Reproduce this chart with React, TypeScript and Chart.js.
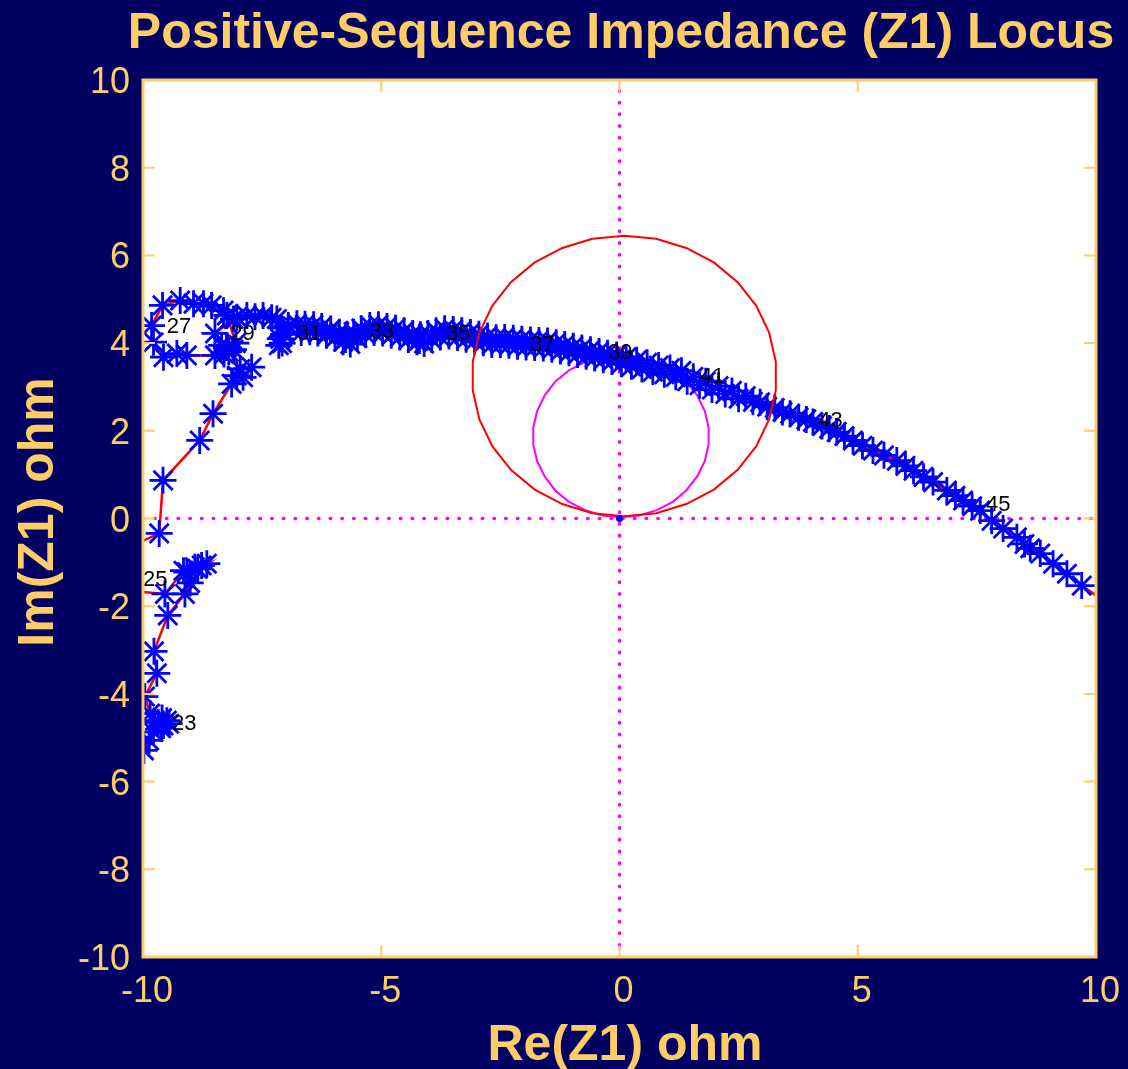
import React, { useEffect, useRef } from "react";
import { Chart, registerables } from "chart.js";

Chart.register(...registerables);

// ---------- data ----------
const reZ1 = [
  -10.5, -9.98, -9.87, -9.78, -9.68, -9.5, -9.57, -9.75, -9.6, -9.45,
  -9.62, -9.85, -9.96, -9.71, -9.77, -9.48, -9.12, -9.01, -9.08, -8.91,
  -8.77, -8.66, -8.85, -9.15, -9.54, -10.6, -11.0, -9.66, -9.58, -8.81,
  -8.53, -8.14, -8.03, -7.9, -7.72, -7.96, -8.2, -8.35, -8.1, -8.3,
  -8.49, -9.08, -9.29, -9.57, -9.78, -9.82, -9.59, -9.22, -8.94, -8.73,
  -8.56, -8.31, -8.1, -8.49, -8.25, -8.05, -8.24, -8.03, -7.82, -7.65,
  -7.48, -7.3, -7.19, -7.1, -7.12, -7.15, -7.05, -7.08, -6.95, -6.77,
  -6.68, -6.6, -6.5, -6.42, -6.33, -6.25, -6.15, -6.06, -5.97, -5.88,
  -5.8, -5.72, -5.65, -5.75, -5.58, -5.5, -5.42, -5.33, -5.24, -5.15,
  -5.06, -4.97, -4.88, -4.79, -4.7, -4.61, -4.52, -4.43, -4.34, -4.25,
  -4.18, -4.1, -4.2, -4.02, -3.94, -3.85, -3.76, -3.67, -3.58, -3.49,
  -3.4, -3.31, -3.22, -3.13, -3.04, -2.95, -2.86, -2.77, -2.68, -2.59,
  -2.5, -2.41, -2.32, -2.23, -2.14, -2.05, -1.96, -1.87, -1.78, -1.69,
  -1.6, -1.51, -1.42, -1.33, -1.24, -1.15, -1.06, -0.97, -0.88, -0.79,
  -0.7, -0.61, -0.52, -0.43, -0.34, -0.25, -0.16, -0.06, 0.04, 0.14,
  0.25, 0.36, 0.47, 0.58, 0.7, 0.82, 0.94, 1.06, 1.18, 1.3,
  1.42, 1.55, 1.68, 1.81, 1.94, 2.08, 2.22, 2.36, 2.5, 2.65,
  2.8, 2.95, 3.1, 3.26, 3.42, 3.58, 3.76, 3.92, 4.06, 4.25,
  4.4, 4.56, 4.72, 4.9, 5.1, 5.32, 5.55, 5.82, 6.0, 6.17,
  6.38, 6.58, 6.87, 7.05, 7.21, 7.4, 7.57, 7.81, 8.05, 8.34,
  8.5, 8.62, 8.83, 9.1, 9.39, 9.7, 10.6,
];
const imZ1 = [
  -5.9, -5.29, -5.06, -4.87, -4.65, -4.61, -4.72, -4.61, -4.55, -4.68,
  -4.78, -4.45, -4.06, -3.53, -3.03, -2.21, -1.72, -1.47, -1.22, -1.11,
  -1.07, -1.03, -1.15, -1.19, -1.72, -1.62, -1.0, -0.34, 0.87, 1.78,
  2.39, 3.07, 3.26, 3.22, 3.45, 3.41, 3.8, 3.95, 3.85, 3.75,
  3.72, 3.72, 3.76, 3.68, 4.02, 4.4, 4.86, 4.97, 4.9, 4.9,
  4.86, 4.74, 4.55, 4.22, 3.9, 4.0, 4.63, 4.59, 4.63, 4.6,
  4.63, 4.58, 4.55, 4.35, 4.1, 3.95, 4.2, 4.0, 4.4, 4.44,
  4.24, 4.43, 4.26, 4.42, 4.23, 4.38, 4.18, 4.32, 4.11, 4.25,
  4.03, 4.2, 3.98, 4.08, 4.25, 4.11, 4.33, 4.2, 4.4, 4.24,
  4.42, 4.23, 4.38, 4.18, 4.34, 4.14, 4.28, 4.08, 4.22, 4.03,
  4.19, 3.99, 4.06, 4.22, 4.08, 4.28, 4.14, 4.33, 4.16, 4.31,
  4.13, 4.28, 4.09, 4.24, 4.05, 4.2, 4.01, 4.16, 3.97, 4.12,
  3.97, 4.13, 3.95, 4.11, 3.93, 4.09, 3.91, 4.07, 3.9, 4.06,
  3.89, 4.05, 3.86, 4.01, 3.82, 3.97, 3.78, 3.93, 3.74, 3.89,
  3.7, 3.85, 3.66, 3.81, 3.62, 3.77, 3.58, 3.73, 3.53, 3.67,
  3.47, 3.61, 3.41, 3.55, 3.35, 3.49, 3.29, 3.43, 3.23, 3.37,
  3.13, 3.23, 3.04, 3.13, 2.94, 3.02, 2.84, 2.91, 2.73, 2.79,
  2.66, 2.65, 2.55, 2.52, 2.43, 2.39, 2.31, 2.26, 2.2, 2.11,
  2.05, 1.97, 1.88, 1.78, 1.66, 1.55, 1.44, 1.32, 1.2, 1.09,
  0.95, 0.83, 0.64, 0.52, 0.41, 0.28, 0.18, -0.05, -0.23, -0.43,
  -0.58, -0.68, -0.8, -1.03, -1.26, -1.53, -2.2,
];

// mho relay characteristic (red polygon)
const mhoRe = [
  0.1, 0.77, 1.4, 1.98, 2.48, 2.87, 3.14, 3.28, 3.28, 3.14, 2.87,
  2.48, 1.98, 1.4, 0.77, 0.1, -0.57, -1.2, -1.78, -2.28, -2.67,
  -2.94, -3.08, -3.08, -2.94, -2.67, -2.28, -1.78, -1.2, -0.57, 0.1,
];
const mhoIm = [
  0.05, 0.12, 0.33, 0.66, 1.11, 1.65, 2.26, 2.92, 3.58, 4.24, 4.85,
  5.39, 5.84, 6.17, 6.38, 6.45, 6.38, 6.17, 5.84, 5.39, 4.85,
  4.24, 3.58, 2.92, 2.26, 1.65, 1.11, 0.66, 0.33, 0.12, 0.05,
];
// inner zone (magenta polygon)
const zoneRe = [
  0.03, 0.41, 0.78, 1.12, 1.4, 1.63, 1.79, 1.87, 1.87, 1.79, 1.63,
  1.4, 1.12, 0.78, 0.41, 0.03, -0.36, -0.72, -1.06, -1.35, -1.57,
  -1.73, -1.81, -1.81, -1.73, -1.57, -1.35, -1.06, -0.72, -0.36, 0.03,
];
const zoneIm = [
  0.03, 0.07, 0.19, 0.38, 0.64, 0.96, 1.31, 1.69, 2.07, 2.45, 2.81,
  3.12, 3.38, 3.57, 3.69, 3.73, 3.69, 3.57, 3.38, 3.12, 2.81,
  2.45, 2.07, 1.69, 1.31, 0.96, 0.64, 0.38, 0.19, 0.07, 0.03,
];

// sample-number annotations
const sampleText = ["23", "25", "27", "29", "31", "33", "35", "37", "39", "41", "43", "45"];
const sampleRe = [-9.39, -10.0, -9.5, -8.17, -6.77, -5.24, -3.64, -1.88, -0.24, 1.69, 4.17, 7.69];
const sampleIm = [-4.65, -1.35, 4.42, 4.26, 4.26, 4.31, 4.26, 4.01, 3.83, 3.28, 2.28, 0.36];

const xTicks = [-10, -5, 0, 5, 10];
const yTicks = [-10, -8, -6, -4, -2, 0, 2, 4, 6, 8, 10];

const titleText = "Positive-Sequence Impedance (Z1) Locus";
const xTitle = "Re(Z1) ohm";
const yTitle = "Im(Z1) ohm";

// ---------- styles ----------
const NAVY = "#000062";
const ORANGE = "#FFCC66";
const FONT = "'Liberation Sans', Arial, Helvetica, sans-serif";

const toPts = (xs: number[], ys: number[]) => xs.map((x, i) => ({ x, y: ys[i] }));

export default function App() {
  const ref = useRef<HTMLCanvasElement>(null);

  useEffect(() => {
    document.body.style.margin = "0";
    document.body.style.background = NAVY;
    const canvas = ref.current!;

    const decor = {
      id: "matlabDecor",
      beforeDraw(chart: any) {
        const { ctx, chartArea: a, width, height } = chart;
        ctx.save();
        ctx.fillStyle = NAVY;
        ctx.fillRect(0, 0, width, height);
        ctx.fillStyle = "#FFFFFF";
        ctx.fillRect(a.left, a.top, a.right - a.left, a.bottom - a.top);
        ctx.restore();
      },
      afterDatasetsDraw(chart: any) {
        const { ctx } = chart;
        const xs = chart.scales.x;
        const ys = chart.scales.y;
        ctx.save();
        ctx.fillStyle = "#000000";
        ctx.font = `22px ${FONT}`;
        ctx.textAlign = "left";
        ctx.textBaseline = "alphabetic";
        sampleText.forEach((t, i) => {
          const px = xs.getPixelForValue(sampleRe[i]);
          const py = ys.getPixelForValue(sampleIm[i]);
          ctx.fillText(t, px, py + 8);
        });
        ctx.restore();
      },
      afterDraw(chart: any) {
        const { ctx, chartArea: a } = chart;
        const xs = chart.scales.x;
        const ys = chart.scales.y;
        ctx.save();
        // ticks
        ctx.strokeStyle = ORANGE;
        ctx.lineWidth = 2;
        const TL = 12;
        xTicks.forEach((v) => {
          const px = xs.getPixelForValue(v);
          ctx.beginPath();
          ctx.moveTo(px, a.bottom);
          ctx.lineTo(px, a.bottom - TL);
          ctx.moveTo(px, a.top);
          ctx.lineTo(px, a.top + TL);
          ctx.stroke();
        });
        yTicks.forEach((v) => {
          const py = ys.getPixelForValue(v);
          ctx.beginPath();
          ctx.moveTo(a.left, py);
          ctx.lineTo(a.left + TL, py);
          ctx.moveTo(a.right, py);
          ctx.lineTo(a.right - TL, py);
          ctx.stroke();
        });
        // frame
        ctx.lineWidth = 3;
        ctx.strokeRect(a.left, a.top, a.right - a.left, a.bottom - a.top);

        // tick labels
        ctx.fillStyle = ORANGE;
        ctx.font = `36px ${FONT}`;
        ctx.textBaseline = "alphabetic";
        ctx.textAlign = "center";
        xTicks.forEach((v) => {
          const px = xs.getPixelForValue(v);
          ctx.fillText(String(v), px + 4, a.bottom + 45);
        });
        ctx.textAlign = "right";
        yTicks.forEach((v) => {
          const py = ys.getPixelForValue(v);
          ctx.fillText(String(v), a.left - 13, py + 13);
        });

        // titles
        ctx.font = `bold 50px ${FONT}`;
        ctx.textAlign = "center";
        ctx.fillText(titleText, 621, 48);
        ctx.fillText(xTitle, 625, 1060);
        ctx.translate(53, 512);
        ctx.rotate(-Math.PI / 2);
        ctx.fillText(yTitle, 0, 0);
        ctx.restore();
      },
    };

    const chart = new Chart(canvas, {
      type: "scatter",
      data: {
        datasets: [
          {
            label: "origin",
            data: [{ x: 0, y: 0 }],
            pointStyle: "circle",
            pointRadius: 3.5,
            pointBackgroundColor: "#0000FF",
            pointBorderColor: "#0000FF",
            pointBorderWidth: 0,
            showLine: false,
            order: 0,
          },
          {
            label: "mho",
            data: toPts(mhoRe, mhoIm),
            showLine: true,
            borderColor: "#FF0000",
            borderWidth: 2,
            pointRadius: 0,
            tension: 0,
            order: 1,
          },
          {
            label: "Z1",
            data: toPts(reZ1, imZ1),
            showLine: true,
            borderColor: "#FF0000",
            borderWidth: 2.5,
            pointStyle: "star",
            pointRadius: 13.5,
            pointBorderColor: "#0000FF",
            pointBackgroundColor: "#0000FF",
            pointBorderWidth: 2.8,
            tension: 0,
            order: 2,
          },
          {
            label: "zone",
            data: toPts(zoneRe, zoneIm),
            showLine: true,
            borderColor: "#FF00FF",
            borderWidth: 2,
            pointRadius: 0,
            tension: 0,
            order: 3,
          },
          {
            label: "xaxis0",
            data: [{ x: -10, y: 0 }, { x: 10, y: 0 }],
            showLine: true,
            borderColor: "#FF00FF",
            borderWidth: 3.5,
            borderDash: [0.5, 11.2],
            borderCapStyle: "round",
            pointRadius: 0,
            order: 4,
          },
          {
            label: "yaxis0",
            data: [{ x: 0, y: -10 }, { x: 0, y: 10 }],
            showLine: true,
            borderColor: "#FF00FF",
            borderWidth: 3.5,
            borderDash: [0.5, 11.2],
            borderCapStyle: "round",
            pointRadius: 0,
            order: 5,
          },
        ] as any,
      },
      options: {
        animation: false,
        responsive: false,
        devicePixelRatio: 1,
        events: [],
        layout: { padding: { left: 143, top: 80, right: 32, bottom: 112 } },
        scales: {
          x: { type: "linear", min: -10, max: 10, display: false },
          y: { type: "linear", min: -10, max: 10, display: false },
        },
        plugins: {
          legend: { display: false },
          tooltip: { enabled: false },
          title: { display: false },
        },
      } as any,
      plugins: [decor],
    });

    return () => chart.destroy();
  }, []);

  return <canvas ref={ref} width={1128} height={1069} style={{ display: "block" }} />;
}
